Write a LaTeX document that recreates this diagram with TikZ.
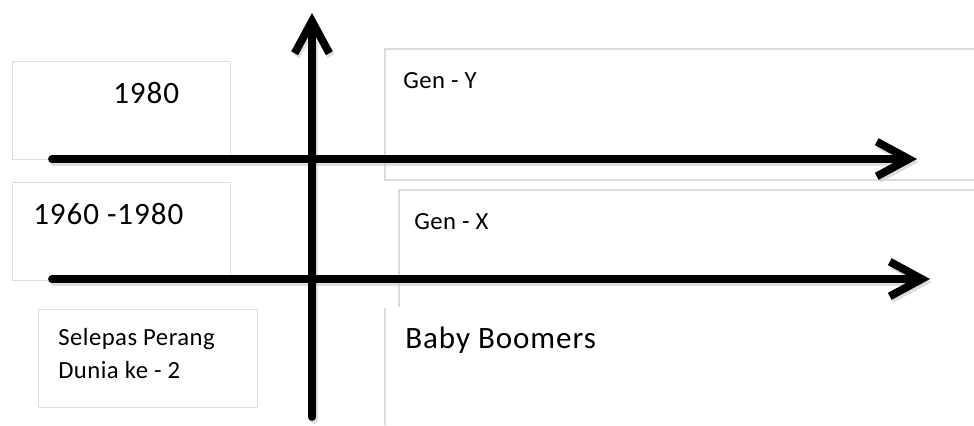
\documentclass[tikz,border=0pt]{standalone}
\usepackage{fontspec}
\setmainfont{Carlito}
\usetikzlibrary{arrows.meta}
\definecolor{framegray}{HTML}{DCDCDC}
\tikzset{
  frame/.style={draw=framegray, line width=0.9pt},
  bigtext/.style={font=\fontsize{23.3pt}{28pt}\selectfont\addfontfeatures{LetterSpace=3}, inner sep=0pt, anchor=base west},
  smalltext/.style={font=\fontsize{18.5pt}{22pt}\selectfont\addfontfeatures{LetterSpace=2}, inner sep=0pt, anchor=base west},
  axis/.style={line width=5.9pt, line cap=round,
    -{Straight Barb[length=24pt, width=26pt, line width=5.9pt]}},
  axisshadow/.style={axis, draw=black!22, opacity=0.6,
    transform canvas={shift={(1.2pt,-2.2pt)}}},
}
\begin{document}
\begin{tikzpicture}[x=0.75pt, y=-0.75pt]
  \useasboundingbox[fill=white] (0,0) rectangle (974,425);

  % light frames of the left column
  \node[frame, inner sep=0pt, minimum width=163.5pt, minimum height=73.5pt, anchor=north west] (boxA) at (12,61) {};
  \node[frame, inner sep=0pt, minimum width=163.5pt, minimum height=73.5pt, anchor=north west] (boxB) at (12,182) {};
  \node[frame, inner sep=0pt, minimum width=164.25pt, minimum height=73.5pt, anchor=north west] (boxC) at (38,309) {};

  % open frames of the right column
  \draw[frame] (974,49) -- (385,49) -- (385,180) -- (974,180);
  \draw[frame] (974,190) -- (399,190) -- (399,307);
  \draw[frame] (385,308) -- (385,425);

  % labels
  \node[bigtext] (t1980) at (113,103) {1980};
  \node[bigtext] (t1960) at (33,224) {1960 -1980};
  \node[smalltext] (tsel) at (58,345) {Selepas Perang};
  \node[smalltext] (tdun) at (58,378) {Dunia ke - 2};
  \node[smalltext] (tgeny) at (403,88) {Gen - Y};
  \node[smalltext] (tgenx) at (414,229) {Gen - X};
  \node[bigtext] (tboom) at (405,348) {Baby Boomers};

  % axis end points
  \coordinate (vS) at (312,417);
  \coordinate (vE) at (312,13);
  \coordinate (h1S) at (52,159);
  \coordinate (h1E) at (917,159);
  \coordinate (h2S) at (52,279);
  \coordinate (h2E) at (930,279);

  % soft shadows under the axes
  \draw[axisshadow] (h1S) -- (h1E);
  \draw[axisshadow] (h2S) -- (h2E);
  \draw[axisshadow] (vS) -- (vE);

  % axes
  \draw[axis] (h1S) -- (h1E);
  \draw[axis] (h2S) -- (h2E);
  \draw[axis] (vS) -- (vE);
\end{tikzpicture}
\end{document}
